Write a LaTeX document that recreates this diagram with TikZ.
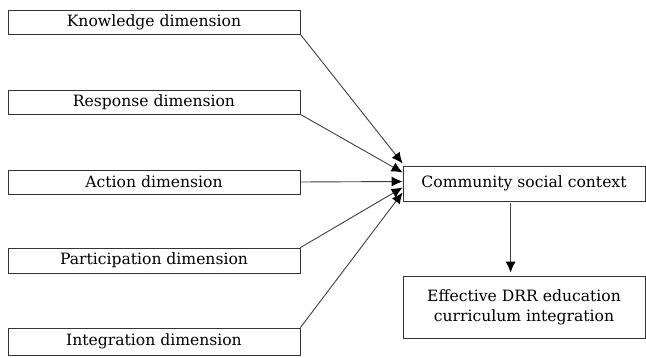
\documentclass[tikz,border=0pt]{standalone}
\usepackage{fontspec}
\setmainfont{DejaVu Serif}
\usetikzlibrary{arrows.meta,calc}
\begin{document}
\begin{tikzpicture}[x=1pt,y=-1pt,
  box/.style={draw=black!80,line width=0.8pt,inner sep=0pt,align=center,font=\fontsize{15.6}{20}\selectfont},
  conn/.style={draw=black!75,line width=0.9pt,-{Latex[length=11pt,width=10pt,color=black]}}]
\useasboundingbox (0,0) rectangle (646,358);
\node[box,minimum width=292pt,minimum height=24pt] (k) at (154,22) {Knowledge dimension};
\node[box,minimum width=292pt,minimum height=24pt] (r) at (154,102) {Response dimension};
\node[box,minimum width=292pt,minimum height=24pt] (a) at (154,182) {Action dimension};
\node[box,minimum width=292pt,minimum height=25pt] (p) at (154,260.5) {Participation dimension};
\node[box,minimum width=292pt,minimum height=27pt] (i) at (154,341.5) {Integration dimension};
\node[box,minimum width=242pt,minimum height=35pt] (c) at (524,183.5) {Community social context};
\node[box,minimum width=242pt,minimum height=62pt] (e) at (524,307) {Effective DRR education\\curriculum integration};
\draw[conn] (k.south east) -- ($(c.west)+(0,-20)$);
\draw[conn] (r.south east) -- ($(c.west)+(0,-11)$);
\draw[conn] (a.east) -- ($(c.west)+(0,-2)$);
\draw[conn] (p.north east) -- ($(c.west)+(0,4)$);
\draw[conn] (i.north east) -- ($(c.west)+(0,9)$);
\draw[conn] ($(c.south west)+(108,2)$) -- ($(e.north west)+(108,-3)$);
\end{tikzpicture}
\end{document}
